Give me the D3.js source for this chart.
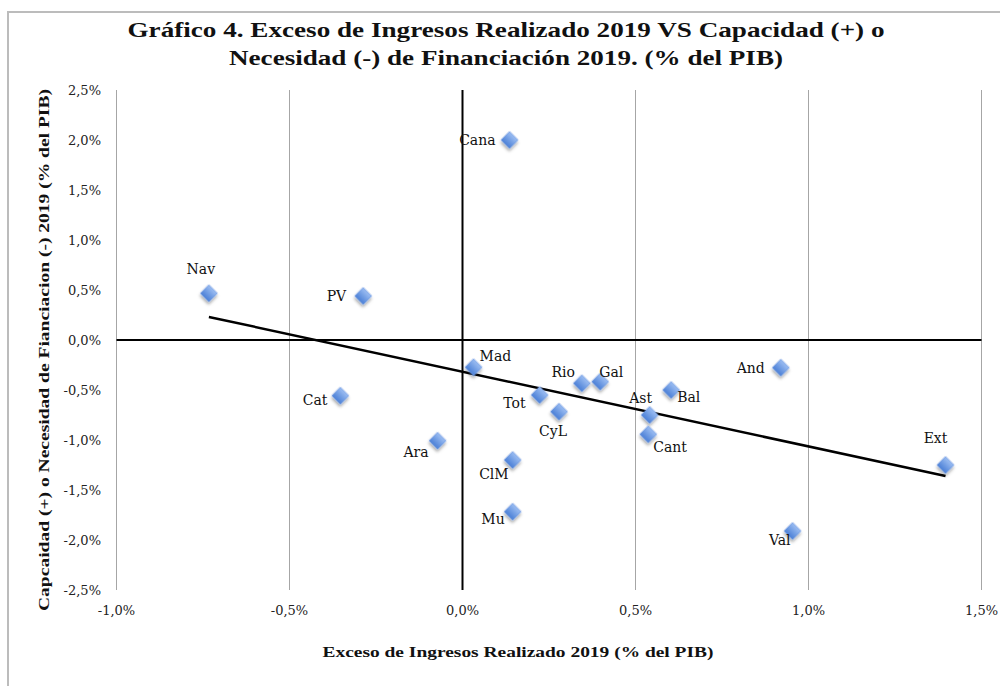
<!DOCTYPE html>
<html>
<head>
<meta charset="utf-8">
<script src="https://d3js.org/d3.v7.min.js"></script>
<style>
  body { margin: 0; background: #fff; }
  svg { display: block; font-family: "DejaVu Serif", "Liberation Serif", serif; }
</style>
</head>
<body>
<div id="chart"></div>
<script>
// Regions, in the order
const regions = ['Cana', 'Nav', 'PV', 'Mad', 'Cat', 'Ara', 'Rio', 'Gal', 'Tot',
                 'CyL', 'Ast', 'Cant', 'Bal', 'ClM', 'Mu', 'And', 'Val', 'Ext'];
// Exceso de ingresos realizado 2019 (% PIB)
const exceso = [0.136, -0.733, -0.287, 0.032, -0.353, -0.072, 0.345, 0.398, 0.223,
                0.279, 0.541, 0.537, 0.603, 0.145, 0.145, 0.920, 0.954, 1.396];
// Capacidad (+) / necesidad (-) de financiacion 2019 (% PIB)
const capacidad = [2.00, 0.467, 0.44, -0.273, -0.557, -1.007, -0.433, -0.417, -0.55,
                   -0.717, -0.75, -0.943, -0.50, -1.20, -1.717, -0.277, -1.91, -1.25];

const xTicks = [-1.0, -0.5, 0.0, 0.5, 1.0, 1.5];
const yTicks = [2.5, 2.0, 1.5, 1.0, 0.5, 0.0, -0.5, -1.0, -1.5, -2.0, -2.5];

// where each label sits around its marker: [dx, dy, anchor]
const labelPlace = {
  Cana: [-14, 5, 'end'], Nav: [-8, -19, 'middle'], PV: [-17, 5, 'end'],
  Mad: [6, -6, 'start'], Cat: [-13, 9, 'end'], Ara: [-9, 16, 'end'],
  Rio: [-7, -6, 'end'], Gal: [-1, -5, 'start'], Tot: [-14, 13, 'end'],
  CyL: [-6, 24, 'middle'], Ast: [-9, -12, 'middle'], Cant: [5, 18, 'start'],
  Bal: [6, 12, 'start'], ClM: [-4, 19, 'end'], Mu: [-8, 12, 'end'],
  And: [-16, 5, 'end'], Val: [-2, 14, 'end'], Ext: [-10, -22, 'middle']
};

const W = 1000, H = 686;
const svg = d3.select('#chart').append('svg').attr('width', W).attr('height', H);

const defs = svg.append('defs');
const grad = defs.append('linearGradient').attr('id', 'dia')
  .attr('x1', 0).attr('y1', 0).attr('x2', 0).attr('y2', 1);
grad.append('stop').attr('offset', '0%').attr('stop-color', '#9dbef2');
grad.append('stop').attr('offset', '100%').attr('stop-color', '#4a7fd6');
const shadow = defs.append('filter').attr('id', 'sh')
  .attr('x', '-50%').attr('y', '-50%').attr('width', '200%').attr('height', '200%');
shadow.append('feDropShadow').attr('dx', 1.5).attr('dy', 2).attr('stdDeviation', 1.5)
  .attr('flood-color', '#000').attr('flood-opacity', 0.35);

// outer frame (top and left edges only visible)
svg.append('path').attr('d', `M8,${H} V12 H${W}`)
  .attr('fill', 'none').attr('stroke', '#bcbcbc').attr('stroke-width', 2);

const x = d3.scaleLinear().domain([-1.0, 1.5]).range([116.5, 981.5]);
const y = d3.scaleLinear().domain([-2.5, 2.5]).range([590, 90]);

const fmt = v => d3.format('.1f')(v).replace('.', ',').replace('−', '-') + '%';

// vertical gridlines
svg.append('g').selectAll('line').data(xTicks.filter(d => d !== 0)).join('line')
  .attr('x1', d => x(d)).attr('x2', d => x(d))
  .attr('y1', y(2.5)).attr('y2', y(-2.5))
  .attr('stroke', '#a6a6a6').attr('stroke-width', 1);

// axes crossing at zero
svg.append('line').attr('x1', x(-1)).attr('x2', x(1.5)).attr('y1', y(0)).attr('y2', y(0))
  .attr('stroke', '#000').attr('stroke-width', 2);
svg.append('line').attr('x1', x(0)).attr('x2', x(0)).attr('y1', y(2.5)).attr('y2', y(-2.5))
  .attr('stroke', '#000').attr('stroke-width', 2);

// tick labels
svg.append('g').selectAll('text').data(yTicks).join('text')
  .attr('x', 101).attr('y', d => y(d) + 4.5)
  .attr('text-anchor', 'end').attr('font-size', 13).attr('fill', '#222')
  .text(fmt);
svg.append('g').selectAll('text').data(xTicks).join('text')
  .attr('x', d => x(d)).attr('y', 615)
  .attr('text-anchor', 'middle').attr('font-size', 13).attr('fill', '#222')
  .text(fmt);

// linear trend (least squares over all points)
const pts = regions.map((r, i) => ({ name: r, x: exceso[i], y: capacidad[i] }));
const mx = d3.mean(pts, d => d.x), my = d3.mean(pts, d => d.y);
const slope = d3.sum(pts, d => (d.x - mx) * (d.y - my)) / d3.sum(pts, d => (d.x - mx) ** 2);
const icpt = my - slope * mx;
const [x0, x1] = d3.extent(pts, d => d.x);
svg.append('line')
  .attr('x1', x(x0)).attr('y1', y(icpt + slope * x0))
  .attr('x2', x(x1)).attr('y2', y(icpt + slope * x1))
  .attr('stroke', '#000').attr('stroke-width', 2.5);

// markers
const sym = d3.symbol().type(d3.symbolSquare).size(145);
svg.append('g').selectAll('path').data(pts).join('path')
  .attr('d', sym)
  .attr('transform', d => `translate(${x(d.x)},${y(d.y)}) rotate(45)`)
  .attr('fill', 'url(#dia)').attr('stroke', '#6f9be3').attr('stroke-width', 0.6)
  .attr('filter', 'url(#sh)');

// data labels
svg.append('g').selectAll('text').data(pts).join('text')
  .attr('x', d => x(d.x) + labelPlace[d.name][0])
  .attr('y', d => y(d.y) + labelPlace[d.name][1])
  .attr('text-anchor', d => labelPlace[d.name][2])
  .attr('font-size', 14).attr('fill', '#111')
  .text(d => d.name);

// titles
const title = svg.append('text').attr('text-anchor', 'middle')
  .attr('font-weight', 'bold').attr('font-size', 21).attr('fill', '#111')
  .attr('font-family', '"Liberation Serif", serif');
title.append('tspan').attr('x', 506).attr('y', 37)
  .attr('textLength', 757).attr('lengthAdjust', 'spacingAndGlyphs')
  .text('Gráfico 4. Exceso de Ingresos Realizado 2019 VS Capacidad (+) o');
title.append('tspan').attr('x', 506).attr('y', 65)
  .attr('textLength', 554).attr('lengthAdjust', 'spacingAndGlyphs')
  .text('Necesidad (-) de Financiación 2019. (% del PIB)');

svg.append('text').attr('x', 518).attr('y', 657).attr('text-anchor', 'middle')
  .attr('font-weight', 'bold').attr('font-size', 14).attr('fill', '#111')
  .attr('font-family', '"Liberation Serif", serif')
  .attr('textLength', 391).attr('lengthAdjust', 'spacingAndGlyphs')
  .text('Exceso de Ingresos Realizado 2019 (% del PIB)');

svg.append('text').attr('transform', 'translate(49,350) rotate(-90)')
  .attr('text-anchor', 'middle')
  .attr('font-weight', 'bold').attr('font-size', 14).attr('fill', '#111')
  .attr('font-family', '"Liberation Serif", serif')
  .attr('textLength', 522).attr('lengthAdjust', 'spacingAndGlyphs')
  .text('Capcaidad (+) o Necesidad de Fianciacion (-)  2019 (% del PIB)');
</script>
</body>
</html>
